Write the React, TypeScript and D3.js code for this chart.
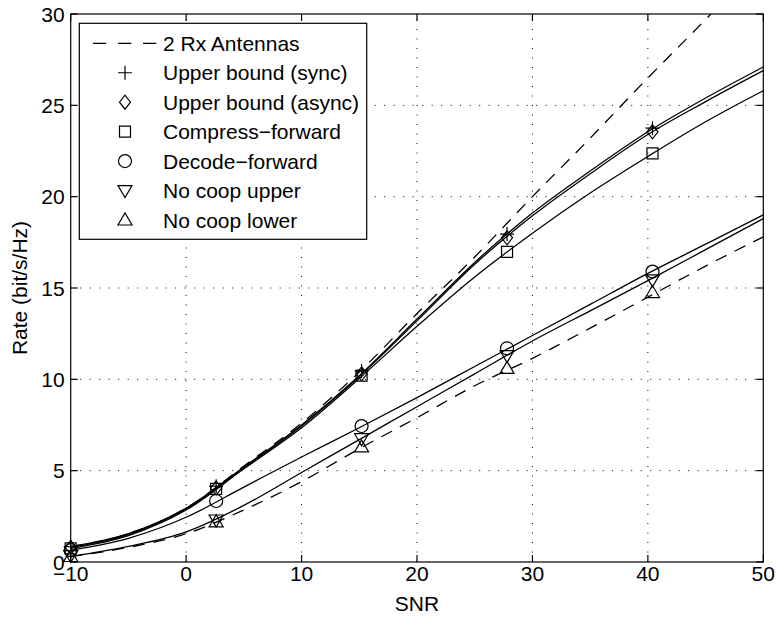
import React, { useEffect, useRef } from "react";
import * as d3 from "d3";

// SNR grid used for the curves (dB)
const snrGrid = [-10, -5, 0, 5, 10, 15, 20, 25, 30, 35, 40, 45, 50];

// curves (solid unless marked dashed)
const twoRxCurve = [0.84, 1.55, 2.95, 5.25, 7.6, 10.4, 13.6, 16.7, 20.0, 23.2, 26.5, 29.7, 33.0];
const upperSyncCurve = [0.84, 1.55, 2.95, 5.2, 7.5, 10.2, 13.3, 16.4, 19.1, 21.4, 23.55, 25.4, 27.1];
const upperAsyncCurve = [0.8, 1.5, 2.9, 5.15, 7.45, 10.15, 13.2, 16.3, 18.95, 21.25, 23.4, 25.2, 26.9];
const compressCurve = [0.75, 1.45, 2.85, 5.1, 7.35, 10.05, 12.9, 15.6, 18.0, 20.2, 22.2, 24.1, 25.8];
const decodeCurve = [0.65, 1.3, 2.45, 4.1, 5.75, 7.35, 9.0, 10.7, 12.4, 14.1, 15.8, 17.4, 19.0];
const noCoopUpperCurve = [0.3, 0.85, 1.65, 3.1, 4.9, 6.7, 8.5, 10.3, 12.1, 13.75, 15.4, 17.1, 18.8];
const noCoopLowerCurve = [0.3, 0.8, 1.55, 2.85, 4.4, 6.2, 7.9, 9.65, 11.15, 12.8, 14.5, 16.2, 17.8];

// marker positions
const markerSnr = [-10, 2.6, 15.2, 27.8, 40.4];
const upperSyncPts = [0.84, 4.15, 10.45, 17.95, 23.75];
const upperAsyncPts = [0.8, 4.05, 10.3, 17.75, 23.55];
const compressPts = [0.75, 4.0, 10.2, 16.98, 22.37];
const decodePts = [0.65, 3.34, 7.44, 11.7, 15.9];
const noCoopUpperPts = [0.35, 2.3, 6.75, 11.3, 15.45];
const noCoopLowerPts = [0.3, 2.2, 6.3, 10.6, 14.75];

const xTicks = [-10, 0, 10, 20, 30, 40, 50];
const yTicks = [0, 5, 10, 15, 20, 25, 30];

const legendLabels = [
	"2 Rx Antennas",
	"Upper bound (sync)",
	"Upper bound (async)",
	"Compress\u2212forward",
	"Decode\u2212forward",
	"No coop upper",
	"No coop lower",
];

const FONT = "'Liberation Sans', Arial, Helvetica, sans-serif";

function markerPath(kind: string) {
	switch (kind) {
		case "plus":
			return "M-7,0H7M0,-7V7";
		case "diamond":
			return "M0,-7L5.5,0L0,7L-5.5,0Z";
		case "square":
			return "M-5.5,-5.5H5.5V5.5H-5.5Z";
		case "circle":
			return "M6.5,0A6.5,6.5 0 1,1 -6.5,0A6.5,6.5 0 1,1 6.5,0Z";
		case "tdown":
			return "M-7,-5L7,-5L0,7Z";
		case "tup":
			return "M-7,5L7,5L0,-7Z";
		default:
			return "";
	}
}

function App() {
	const svgRef = useRef<SVGSVGElement>(null);

	useEffect(() => {
		const width = 776;
		const height = 618;
		const svg = d3.select(svgRef.current);
		svg.selectAll("*").remove();
		svg.attr("width", width).attr("height", height);

		const x = d3.scaleLinear().domain([-10, 50]).range([70.7, 763.3]);
		const y = d3.scaleLinear().domain([0, 30]).range([562, 14]);
		const [x0, x1] = x.range();
		const [y0, y1] = y.range();

		svg.append("rect").attr("width", width).attr("height", height).attr("fill", "#fff");

		svg.append("defs")
			.append("clipPath")
			.attr("id", "plotClip")
			.append("rect")
			.attr("x", x0)
			.attr("y", y1)
			.attr("width", x1 - x0)
			.attr("height", y0 - y1);

		// grid
		const grid = svg.append("g").attr("stroke", "#000").attr("stroke-width", 1).attr("stroke-dasharray", "1,8.5");
		xTicks.slice(1, -1).forEach((t) => {
			grid.append("line").attr("x1", x(t)).attr("x2", x(t)).attr("y1", y0).attr("y2", y1);
		});
		yTicks.slice(1, -1).forEach((t) => {
			grid.append("line").attr("x1", x0).attr("x2", x1).attr("y1", y(t)).attr("y2", y(t));
		});

		// curves
		const line = d3
			.line<number>()
			.x((d, i) => x(snrGrid[i]))
			.y((d) => y(d))
			.curve(d3.curveMonotoneX);

		const curves = [
			{ v: twoRxCurve, dash: "12,9" },
			{ v: noCoopLowerCurve, dash: "12,9" },
			{ v: upperSyncCurve, dash: null },
			{ v: upperAsyncCurve, dash: null },
			{ v: compressCurve, dash: null },
			{ v: decodeCurve, dash: null },
			{ v: noCoopUpperCurve, dash: null },
		];
		const cg = svg.append("g").attr("clip-path", "url(#plotClip)");
		curves.forEach((c) => {
			cg.append("path")
				.attr("d", line(c.v))
				.attr("fill", "none")
				.attr("stroke", "#000")
				.attr("stroke-width", 1.3)
				.attr("stroke-dasharray", c.dash);
		});

		// markers
		const markerSets = [
			{ v: upperSyncPts, kind: "plus" },
			{ v: upperAsyncPts, kind: "diamond" },
			{ v: compressPts, kind: "square" },
			{ v: decodePts, kind: "circle" },
			{ v: noCoopUpperPts, kind: "tdown" },
			{ v: noCoopLowerPts, kind: "tup" },
		];
		const mg = svg.append("g");
		markerSets.forEach((m) => {
			mg.selectAll(null)
				.data(m.v)
				.enter()
				.append("path")
				.attr("transform", (d, i) => `translate(${x(markerSnr[i])},${y(d)})`)
				.attr("d", markerPath(m.kind))
				.attr("fill", "none")
				.attr("stroke", "#000")
				.attr("stroke-width", 1.2);
		});

		// box and ticks
		const axes = svg.append("g").attr("stroke", "#000").attr("stroke-width", 1.2);
		axes.append("rect")
			.attr("x", x0)
			.attr("y", y1)
			.attr("width", x1 - x0)
			.attr("height", y0 - y1)
			.attr("fill", "none");
		const tl = 7;
		xTicks.forEach((t) => {
			axes.append("line").attr("x1", x(t)).attr("x2", x(t)).attr("y1", y0).attr("y2", y0 - tl);
			axes.append("line").attr("x1", x(t)).attr("x2", x(t)).attr("y1", y1).attr("y2", y1 + tl);
		});
		yTicks.forEach((t) => {
			axes.append("line").attr("x1", x0).attr("x2", x0 + tl).attr("y1", y(t)).attr("y2", y(t));
			axes.append("line").attr("x1", x1).attr("x2", x1 - tl).attr("y1", y(t)).attr("y2", y(t));
		});

		const labels = svg.append("g").style("font-family", FONT).style("font-size", "21px").attr("fill", "#000");
		xTicks.forEach((t) => {
			labels.append("text")
				.attr("x", x(t))
				.attr("y", 581)
				.attr("text-anchor", "middle")
				.text(t < 0 ? `\u2212${Math.abs(t)}` : `${t}`);
		});
		yTicks.forEach((t) => {
			labels.append("text")
				.attr("x", x0 - 6)
				.attr("y", y(t) + 7.5)
				.attr("text-anchor", "end")
				.text(`${t}`);
		});
		labels.append("text")
			.attr("x", (x0 + x1) / 2)
			.attr("y", 611)
			.attr("text-anchor", "middle")
			.text("SNR");
		labels.append("text")
			.attr("transform", `translate(27,${(y0 + y1) / 2}) rotate(-90)`)
			.attr("text-anchor", "middle")
			.text("Rate (bit/s/Hz)");

		// Legend
		const legend = svg.append("g");
		legend.append("rect")
			.attr("x", 79.3)
			.attr("y", 23.3)
			.attr("width", 287.4)
			.attr("height", 216)
			.attr("fill", "#fff")
			.attr("stroke", "#000")
			.attr("stroke-width", 1.2);
		const kinds = ["dash", "plus", "diamond", "square", "circle", "tdown", "tup"];
		legendLabels.forEach((lab, i) => {
			const cy = 43.3 + i * 29.45;
			if (kinds[i] === "dash") {
				legend.append("line")
					.attr("x1", 93)
					.attr("x2", 157)
					.attr("y1", cy)
					.attr("y2", cy)
					.attr("stroke", "#000")
					.attr("stroke-width", 1.3)
					.attr("stroke-dasharray", "13.3,11.7");
			} else {
				legend.append("path")
					.attr("transform", `translate(125,${cy})`)
					.attr("d", markerPath(kinds[i]))
					.attr("fill", "none")
					.attr("stroke", "#000")
					.attr("stroke-width", 1.2);
			}
			legend.append("text")
				.attr("x", 163)
				.attr("y", cy + 7.5)
				.style("font-family", FONT)
				.style("font-size", "21px")
				.text(lab);
		});
	}, []);

	return (
		<div style={{ position: "absolute", left: 0, top: 0 }}>
			<svg ref={svgRef} style={{ display: "block" }}></svg>
		</div>
	);
}

export default App;
